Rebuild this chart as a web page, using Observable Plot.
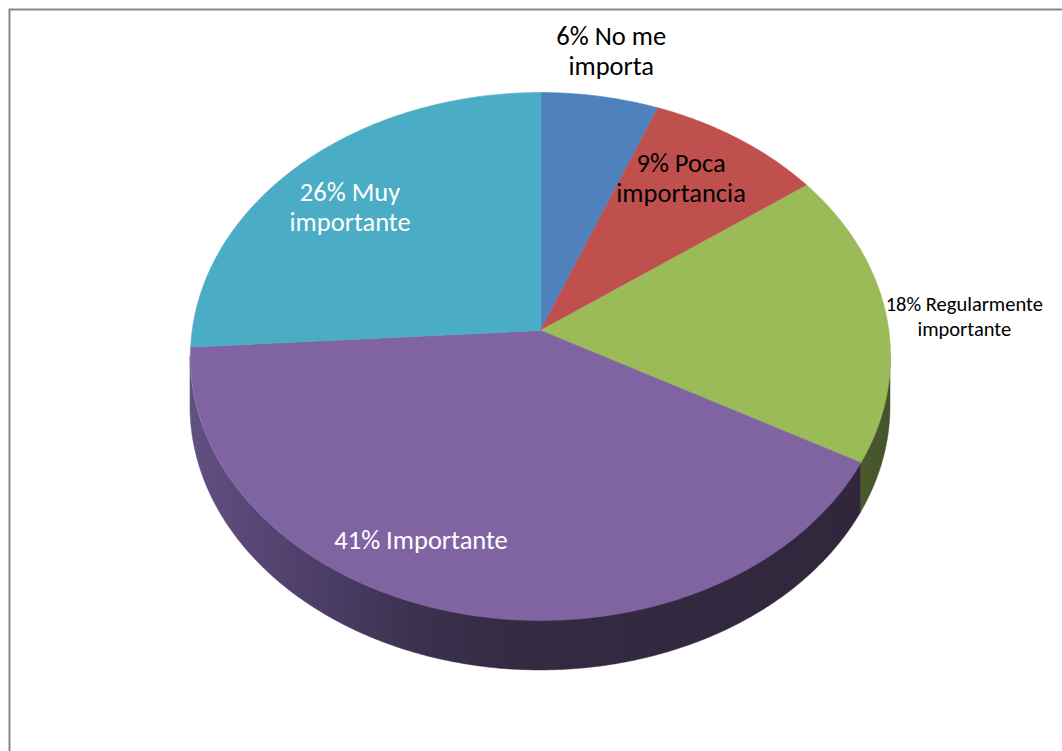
<!DOCTYPE html>
<html><head><meta charset="utf-8">
<script src="https://cdn.jsdelivr.net/npm/d3@7"></script>
<script src="https://cdn.jsdelivr.net/npm/@observablehq/plot@0.6"></script>
<style>html,body{margin:0;padding:0;background:#fff;overflow:hidden;width:1062px;height:751px}#chart svg{display:block;max-width:none !important}</style>
</head><body><div id="chart"></div>
<script>
// ---- data ----
const categories = ["No me importa", "Poca importancia", "Regularmente importante", "Importante", "Muy importante"];
const values = [6, 9, 18, 41, 26];
const labelTexts = ["6% No me\nimporta", "9% Poca\nimportancia", "18% Regularmente\nimportante", "41% Importante", "26% Muy\nimportante"];

// ---- styles / layout ----
const topColors = ["#4f81bd", "#c0504d", "#9bbb59", "#8064a2", "#4bacc6"];
const sideStops = [
  [[0, "#2c4566"], [1, "#2c4566"]],
  [[0, "#672a29"], [1, "#672a29"]],
  [[0, "#4b5a2b"], [1, "#44532a"]],
  [[0, "#625081"], [0.07, "#5b4979"], [0.2, "#4b3d66"], [0.35, "#3b304d"], [0.5, "#342a41"], [1, "#30273d"]],
  [[0, "#286073"], [1, "#286073"]]
];
const labelColors = ["#000", "#000", "#000", "#fff", "#fff"];
const labelSizes = [26.5, 26.5, 20.5, 26.5, 26.5];
const labelLineHeights = [1.14, 1.12, 1.2, 1.14, 1.14];
const labelRadius = [1.21, 0.75, 1.225, 0.81, 0.75];
const labelTurn = [0, -3, 0.9, 10.5, -3];
const labelDy = [-2, -1, 0, -1, -3];

const K = 0.0985;             // perspective factor
const RX = 348.3, RY = 261.4;  // pixel radii
const CX = 540, CY = 330;      // pie centre in pixels
const W = 1072, H = 762, M = 9;
const DEPTH = 50 / RY;

const project = (r, deg) => {
  const a = deg * Math.PI / 180;
  const u = r * Math.sin(a), v = -r * Math.cos(a);
  const s = 1 / (1 - K * v);
  return [u * s, v * s];
};

const total = d3.sum(values);
let acc = 0;
const slices = values.map((v, i) => {
  const a0 = acc / total * 360; acc += v;
  const a1 = acc / total * 360;
  return {i, a0, a1, name: categories[i]};
});

// top face polygons
const topPts = [];
slices.forEach(s => {
  topPts.push({z: s.i, X: 0, Y: 0, c: topColors[s.i]});
  const n = Math.max(2, Math.ceil((s.a1 - s.a0) / 0.5));
  for (let j = 0; j <= n; j++) {
    const [X, Y] = project(1, s.a0 + (s.a1 - s.a0) * j / n);
    topPts.push({z: s.i, X, Y, c: topColors[s.i]});
  }
});

// visible side wall, one area per slice
const vis0 = Math.acos(-K) * 180 / Math.PI, vis1 = 360 - vis0;
const sideMarks = [];
slices.forEach(s => {
  const b0 = Math.max(s.a0, vis0), b1 = Math.min(s.a1, vis1);
  if (b1 <= b0) return;
  const pts = [];
  const n = Math.max(2, Math.ceil((b1 - b0) / 0.5));
  for (let j = 0; j <= n; j++) {
    const [X, Y] = project(1, b1 - (b1 - b0) * j / n);
    pts.push({X, Y1: Y, Y2: Y + DEPTH});
  }
  sideMarks.push(Plot.areaY(pts, {x: "X", y1: "Y1", y2: "Y2", fill: `url(#side${s.i})`, stroke: `url(#side${s.i})`, strokeWidth: 0.5}));
});

// gradient definitions (a style, rendered as a function mark)
const defsMark = () => {
  const ns = "http://www.w3.org/2000/svg";
  const g = document.createElementNS(ns, "g");
  const defs = document.createElementNS(ns, "defs");
  sideStops.forEach((stops, i) => {
    const lg = document.createElementNS(ns, "linearGradient");
    lg.setAttribute("id", `side${i}`);
    lg.setAttribute("x1", "0"); lg.setAttribute("x2", "1");
    lg.setAttribute("y1", "0"); lg.setAttribute("y2", "0");
    stops.forEach(([o, c]) => {
      const st = document.createElementNS(ns, "stop");
      st.setAttribute("offset", o); st.setAttribute("stop-color", c);
      lg.append(st);
    });
    defs.append(lg);
  });
  g.append(defs);
  return g;
};

// labels
const labels = slices.map(s => {
  const [X, Y] = project(labelRadius[s.i], (s.a0 + s.a1) / 2 + labelTurn[s.i]);
  return {X, Y, text: labelTexts[s.i], fill: labelColors[s.i], i: s.i};
});

const chart = Plot.plot({
  width: W, height: H,
  marginLeft: M, marginTop: M, marginRight: 0, marginBottom: 0,
  x: {domain: [(M - CX) / RX, (W - CX) / RX], axis: null},
  y: {domain: [(H - CY) / RY, (M - CY) / RY], axis: null},
  color: {type: "identity"},
  style: {fontFamily: "Carlito, Calibri, Lato, 'Open Sans', sans-serif", background: "#fff", overflow: "hidden", maxWidth: "none"},
  marks: [
    defsMark,
    ...sideMarks,
    Plot.line(topPts, {x: "X", y: "Y", z: "z", fill: "c", stroke: "c", strokeWidth: 0.6, curve: "linear-closed"}),
    ...labels.map(l => Plot.text([l], {x: "X", y: "Y", text: "text", fill: "fill", fontSize: labelSizes[l.i], lineHeight: labelLineHeights[l.i], dy: labelDy[l.i], textAnchor: "middle"})),
    Plot.frame({stroke: "#878787", strokeWidth: 2})
  ]
});
document.getElementById("chart").append(chart);
</script>
</body></html>
